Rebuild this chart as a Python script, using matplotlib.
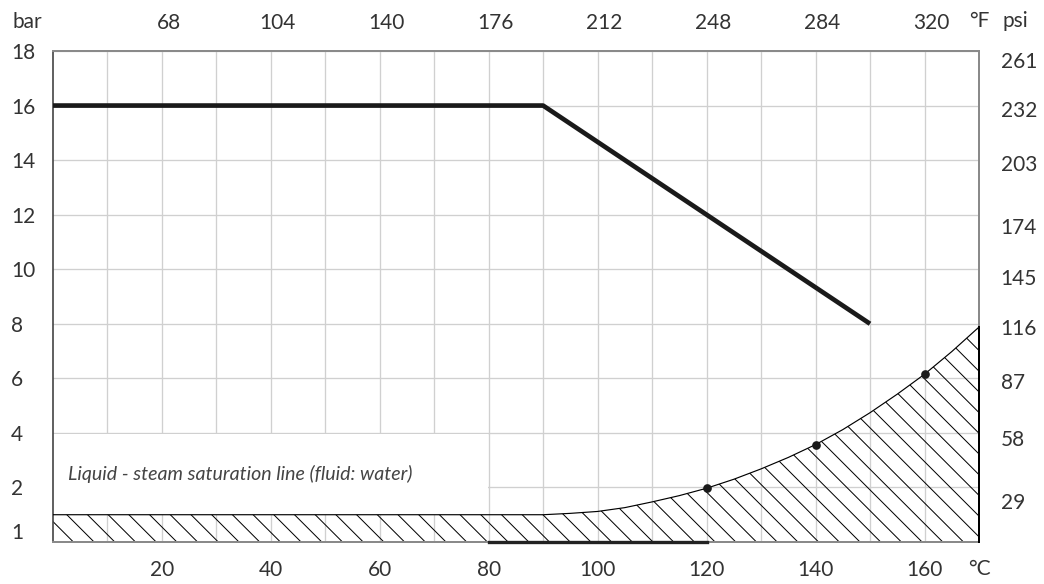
import matplotlib.pyplot as plt
import matplotlib.transforms as mtransforms
import numpy as np
from matplotlib.patches import Rectangle
from matplotlib.collections import LineCollection

plt.rcParams['font.family'] = ['Lato', 'DejaVu Sans']

# saturation line (bar)
temp_c = [0, 90, 95, 100, 105, 110, 115, 120, 125, 130, 135, 140, 145, 150, 155, 160, 165, 170]
p_sat = [1.0, 1.0, 1.05, 1.12, 1.26, 1.47, 1.7, 1.97, 2.3, 2.68, 3.1, 3.57, 4.12, 4.74, 5.42, 6.15, 6.98, 7.88]

# max working pressure line
max_t = [0, 90, 150]
max_p = [16, 16, 8]

# marked points on the saturation line
dot_t = [120, 140, 160]
dot_p = [1.97, 3.57, 6.15]

bottom_seg = [80, 120]

c_ticks = [20, 40, 60, 80, 100, 120, 140, 160]
f_ticks = [68, 104, 140, 176, 212, 248, 284, 320]
bar_ticks = [2, 4, 6, 8, 10, 12, 14, 16, 18]
psi_labels = ['261', '232', '203', '174', '145', '116', '87', '58', '29']
psi_label_pos = [17.67, 15.87, 13.9, 11.6, 9.7, 7.88, 5.89, 3.82, 1.49]

txt_col = '#333333'
fs = 12.5
W, H, DPI = 1044, 584, 120

fig = plt.figure(figsize=(W / DPI, H / DPI), dpi=DPI)
ax = fig.add_axes([52.7 / W, 42 / H, (979 - 52.7) / W, (542 - 51) / H])
ax.set_xlim(0, 170)
ax.set_ylim(0, 18)
ax.set_axisbelow(True)

# ticks and grid
ax.set_xticks(c_ticks)
ax.set_xticks([10, 30, 50, 70, 90, 110, 130, 150], minor=True)
ax.set_yticks(bar_ticks)
ax.set_yticks([0.4], labels=['1'], minor=True)
ax.grid(True, which='both', axis='x', color='#d0d0d0', lw=0.8)
ax.grid(True, which='major', axis='y', color='#d0d0d0', lw=0.8)
ax.tick_params(which='both', length=0, labelsize=fs, labelcolor=txt_col)
ax.tick_params(axis='x', which='both', pad=11)
ax.tick_params(axis='y', which='both', pad=25)
for lbl in ax.get_yticklabels() + ax.get_yticklabels(minor=True):
    lbl.set_horizontalalignment('left')

ax.spines['left'].set_color('#444444')
ax.spines['left'].set_linewidth(1.0)
for s in ['top', 'right', 'bottom']:
    ax.spines[s].set_color('#8a8a8a')
    ax.spines[s].set_linewidth(1.2)

# white label box hides the grid
ax.add_patch(Rectangle((0, 1), 79.85, 2.95, facecolor='white', edgecolor='none', zorder=1))
ax.text(2.8, 2.48, 'Liquid - steam saturation line (fluid: water)', style='italic',
        fontsize=11.8, color='#444444', va='center', zorder=3)

# hatched saturation region, hatch drawn as clipped diagonals
region = ax.fill_between(temp_c, 0, p_sat, facecolor='none', linewidth=0, zorder=2)
px_x = (979 - 52.7) / 170
px_y = (542 - 51) / 18
run = 18 * px_y / px_x
step = 20.7 / px_x
segs = [[(x0, 18), (x0 + run, 0)] for x0 in np.arange(-run, 175, step)]
hatch = LineCollection(segs, colors='black', linewidths=0.6, zorder=2)
ax.add_collection(hatch)
hatch.set_clip_path(region.get_paths()[0], ax.transData)

ax.plot(temp_c, p_sat, color='black', lw=0.7, zorder=3)
ax.plot([temp_c[-1], temp_c[-1]], [0, p_sat[-1]], color='black', lw=1.2, zorder=3, clip_on=False)
ax.plot(bottom_seg, [0, 0], color='#222222', lw=2.0, zorder=4, clip_on=False)

ax.plot(max_t, max_p, color='#1a1a1a', lw=2.8, solid_capstyle='butt', zorder=4)
ax.plot(dot_t, dot_p, 'o', color='#1a1a1a', ms=4.2, zorder=5)
ax.set_xlim(0, 170)
ax.set_ylim(0, 18)

# top axis in °F
sec = ax.secondary_xaxis('top', functions=(lambda c: c * 1.8 + 32, lambda f: (f - 32) / 1.8))
sec.set_xticks(f_ticks)
sec.tick_params(length=0, labelsize=fs, labelcolor=txt_col, pad=11)
sec.spines['top'].set_visible(False)
shift = mtransforms.ScaledTranslation(7 / DPI, 0, fig.dpi_scale_trans)
for lbl in sec.get_xticklabels():
    lbl.set_transform(lbl.get_transform() + shift)

# right axis in psi
axr = ax.twinx()
axr.set_ylim(0, 18)
axr.set_yticks(psi_label_pos)
axr.set_yticklabels(psi_labels)
axr.tick_params(length=0, labelsize=fs, labelcolor=txt_col, pad=13)
for s in axr.spines.values():
    s.set_visible(False)

fig.text(12 / W, 1 - 22 / H, 'bar', ha='left', va='center', fontsize=fs, color=txt_col)
fig.text(969 / W, 1 - 21 / H, '°F', ha='left', va='center', fontsize=fs, color=txt_col)
fig.text(1003 / W, 1 - 21 / H, 'psi', ha='left', va='center', fontsize=fs, color=txt_col)
fig.text(968 / W, 1 - 569 / H, '°C', ha='left', va='center', fontsize=fs, color=txt_col)

fig.savefig('out.png', dpi=DPI)
